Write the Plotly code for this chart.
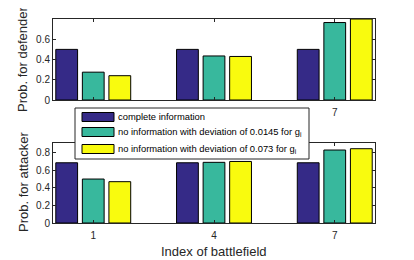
import plotly.graph_objects as go
from plotly.subplots import make_subplots

battlefields = [1, 4, 7]
series_names = [
    "complete information",
    "no information with deviation of 0.0145 for g<sub>i</sub>",
    "no information with deviation of 0.073 for g<sub>i</sub>",
]
defender_complete = [0.50, 0.50, 0.50]
defender_dev_0145 = [0.275, 0.435, 0.765]
defender_dev_073 = [0.24, 0.43, 0.80]
attacker_complete = [0.685, 0.685, 0.685]
attacker_dev_0145 = [0.50, 0.69, 0.83]
attacker_dev_073 = [0.47, 0.70, 0.845]

colors = ["#352A87", "#38B89D", "#F9FB0E"]
axis_color = "#262626"

OFF = 8  # page body margin
W, H = 414 - OFF, 260 - OFF
ML, MR, MT, MB = 53 - OFF, 39, 19 - OFF, 37
PW, PH = W - ML - MR, H - MT - MB


def px_x(px):
    return (px - OFF - ML) / PW


def px_y(py):
    return (H - MB - (py - OFF)) / PH


fig = make_subplots(rows=2, cols=1, vertical_spacing=0.0)

defender = [defender_complete, defender_dev_0145, defender_dev_073]
attacker = [attacker_complete, attacker_dev_0145, attacker_dev_073]

for i in range(3):
    fig.add_trace(go.Bar(x=battlefields, y=defender[i], name=series_names[i],
                         marker=dict(color=colors[i], line=dict(color="black", width=1)),
                         showlegend=False), row=1, col=1)
for i in range(3):
    fig.add_trace(go.Bar(x=battlefields, y=attacker[i], name=series_names[i],
                         marker=dict(color=colors[i], line=dict(color="black", width=1)),
                         showlegend=False), row=2, col=1)

common_x = dict(range=[0, 8], tickvals=battlefields, ticktext=[str(v) for v in battlefields],
                ticks="inside", ticklen=3, tickcolor=axis_color, showline=True, linecolor=axis_color,
                linewidth=1, mirror="ticks", showgrid=False, zeroline=False, automargin=False,
                ticklabelstandoff=3,
                tickfont=dict(size=10, color=axis_color))
common_y = dict(ticks="inside", ticklen=3, tickcolor=axis_color, showline=True, linecolor=axis_color,
                linewidth=1, mirror="ticks", showgrid=False, zeroline=False, automargin=False,
                tickfont=dict(size=10, color=axis_color))

fig.update_xaxes(**common_x)
fig.update_yaxes(**common_y)

top_lo = px_y(100)
bot_hi = px_y(143)

fig.update_layout(
    width=W, height=H,
    margin=dict(l=ML, r=MR, t=MT, b=MB),
    paper_bgcolor="white", plot_bgcolor="white",
    font=dict(family="Liberation Sans, Arial, sans-serif", color=axis_color),
    barmode="group", bargap=0.34, bargroupgap=0.18,
    showlegend=False,
    yaxis=dict(domain=[top_lo, 1.0], range=[0, 0.8], tickvals=[0, 0.2, 0.4, 0.6],
               ticktext=["0", "0.2", "0.4", "0.6"]),
    yaxis2=dict(domain=[0.0, bot_hi], range=[0, 0.91], tickvals=[0, 0.2, 0.4, 0.6, 0.8],
                ticktext=["0", "0.2", "0.4", "0.6", "0.8"]),
)

# axis titles
fig.add_annotation(text="Prob. for defender", xref="paper", yref="paper",
                   x=px_x(23), y=px_y(60), textangle=-90, showarrow=False,
                   xanchor="center", yanchor="middle", font=dict(size=13, color=axis_color))
fig.add_annotation(text="Prob. for attacker", xref="paper", yref="paper",
                   x=px_x(23), y=px_y(182), textangle=-90, showarrow=False,
                   xanchor="center", yanchor="middle", font=dict(size=13, color=axis_color))
fig.add_annotation(text="Index of battlefield", xref="paper", yref="paper",
                   x=px_x(214), y=px_y(251), showarrow=False,
                   xanchor="center", yanchor="middle", font=dict(size=13, color=axis_color))

# legend box (drawn manually to match the reference)
fig.add_shape(type="rect", xref="paper", yref="paper",
              x0=px_x(75), x1=px_x(309), y0=px_y(159), y1=px_y(108),
              fillcolor="white", line=dict(color=axis_color, width=1), layer="above")
row_y = [117, 132, 149]
for i in range(3):
    fig.add_shape(type="rect", xref="paper", yref="paper",
                  x0=px_x(82), x1=px_x(114), y0=px_y(row_y[i] + 4.5), y1=px_y(row_y[i] - 4.5),
                  fillcolor=colors[i], line=dict(color="black", width=1), layer="above")
    fig.add_annotation(text=series_names[i], xref="paper", yref="paper",
                       x=px_x(116), y=px_y(row_y[i]), showarrow=False,
                       xanchor="left", yanchor="middle", font=dict(size=9.4, color="black"))

fig.write_html("out.html")
